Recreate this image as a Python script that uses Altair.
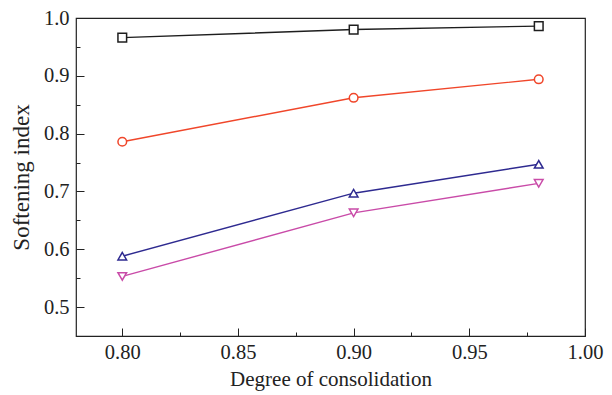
import altair as alt
import pandas as pd

x_vals = [0.80, 0.90, 0.98]
s1 = [0.966, 0.980, 0.986]
s2 = [0.786, 0.862, 0.894]
s3 = [0.588, 0.697, 0.747]
s4 = [0.553, 0.663, 0.714]
series_names = ["S1", "S2", "S3", "S4"]
colors = ["#1e1e1e", "#f0462a", "#2e2a90", "#c94ba8"]
shapes = ["square", "circle", "triangle-up", "triangle-down"]

rows = []
for name, vals in zip(series_names, [s1, s2, s3, s4]):
    for xv, yv in zip(x_vals, vals):
        rows.append({"series": name, "x": xv, "y": yv})
df = pd.DataFrame(rows)

FONT = "Liberation Serif"
xscale = alt.Scale(domain=[0.78, 1.0], nice=False, zero=False)
yscale = alt.Scale(domain=[0.45, 1.0], nice=False, zero=False)
color = alt.Color("series:N", scale=alt.Scale(domain=series_names, range=colors), legend=None)
shape = alt.Shape("series:N", scale=alt.Scale(domain=series_names, range=shapes), legend=None)

x_major = alt.Axis(orient="bottom", values=[0.80, 0.85, 0.90, 0.95, 1.00], format=".2f", offset=-8, tickSize=8,
                   domain=False, grid=False, labelPadding=6, title="Degree of consolidation",
                   labelFont=FONT, titleFont=FONT, labelFontSize=20.5, titleFontSize=21,
                   labelColor="#222", titleColor="#222", tickColor="#222", titleFontWeight="normal",
                   titlePadding=6, labelFlush=False)
y_major = alt.Axis(orient="left", values=[0.5, 0.6, 0.7, 0.8, 0.9, 1.0], format=".1f", offset=-8, tickSize=8,
                   domain=False, grid=False, labelPadding=7, title="Softening index",
                   labelFont=FONT, titleFont=FONT, labelFontSize=20.5, titleFontSize=23,
                   labelColor="#222", titleColor="#222", tickColor="#222", titleFontWeight="normal",
                   titlePadding=10, labelFlush=False)
x_minor = alt.Axis(orient="bottom", values=[0.825, 0.875, 0.925, 0.975], offset=-4, tickSize=4, labels=False,
                   domain=False, grid=False, title=None, tickColor="#222")
y_minor = alt.Axis(orient="left", values=[0.55, 0.65, 0.75, 0.85, 0.95], offset=-4, tickSize=4, labels=False,
                   domain=False, grid=False, title=None, tickColor="#222")

base = alt.Chart(df)
lines = base.mark_line(strokeWidth=1.4).encode(
    x=alt.X("x:Q", scale=xscale, axis=x_major),
    y=alt.Y("y:Q", scale=yscale, axis=y_major),
    color=color,
    detail="series:N",
)
points = base.mark_point(filled=True, fill="white", strokeWidth=1.5, size=75, opacity=1).encode(
    x=alt.X("x:Q", scale=xscale, axis=x_minor),
    y=alt.Y("y:Q", scale=yscale, axis=y_minor),
    stroke=alt.Stroke("series:N", scale=alt.Scale(domain=series_names, range=colors), legend=None),
    shape=shape,
)

chart = alt.layer(lines, points).resolve_axis(x="independent", y="independent").properties(
    width=509, height=318,
    autosize=alt.AutoSizeParams(type="none"),
    padding={"left": 76, "top": 18, "right": 27, "bottom": 59},
    background="white",
).configure_view(stroke="#222", strokeWidth=1.2)

chart.save("out.html", embed_options={"renderer": "svg", "actions": False})
